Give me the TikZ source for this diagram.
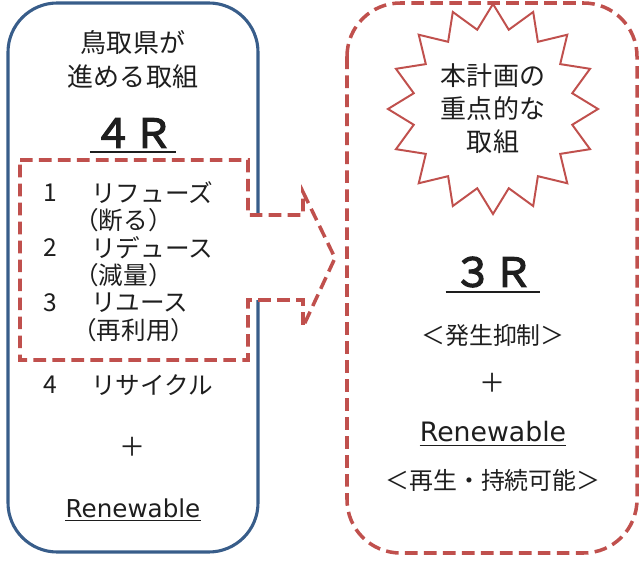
\documentclass[tikz,border=0pt]{standalone}
\usepackage{fontspec}
\setmainfont{Noto Sans CJK JP}
\newfontfamily\latinfont{DejaVu Sans}
\newfontfamily\heavyfont[FakeBold=3]{Noto Sans CJK JP}
\usetikzlibrary{shapes.geometric}
\definecolor{boxBlue}{RGB}{56,93,138}
\definecolor{planRed}{RGB}{192,80,77}
\definecolor{inkGray}{RGB}{30,30,30}

\begin{document}
\begin{tikzpicture}[x=0.025cm, y=-0.025cm,
    every node/.style={text=inkGray, inner sep=0pt},
    title/.style={font=\fontsize{18.5}{24.2}\selectfont, align=center},
    item/.style={font=\fontsize{17.5}{20}\selectfont, anchor=west},
    bigR/.style={font=\heavyfont\fontsize{28.5}{30}\selectfont},
    uline/.style={line width=1.2pt, inkGray},
    redDash/.style={planRed, line width=2.5pt, dash pattern=on 9pt off 4.5pt}]
    \useasboundingbox (0,0) rectangle (644,563);
    % Left box
    \draw[boxBlue, line width=2.2pt, rounded corners=35] (8,3) rectangle (258,552);
    % Dashed arrow over the list
    \draw[redDash, fill=white] (20,160) -- (248,160) -- (248,215) -- (303,215) -- (303,192)
        -- (335,258) -- (303,327) -- (303,300) -- (248,300) -- (248,360) -- (20,360) -- cycle;
    % Right box
    \draw[redDash, rounded corners=38] (347,3) rectangle (637,553);
    % Left texts
    \node[title] (prefTitle) at (133,60) {鳥取県が\\進める取組};
    \node[bigR, inner xsep=2pt] (fourR) at (133,133) {４Ｒ};
    \draw[uline] ([yshift=-3pt]fourR.south west) -- ([yshift=-3pt]fourR.south east);
    \node[item, anchor=center] (numA) at (50,193) {1};
    \node[item] (refuse) at (91,193) {リフューズ};
    \node[item] (refuseJa) at (74,220) {（断る）};
    \node[item, anchor=center] (numB) at (50,248) {2};
    \node[item] (reduce) at (91,248) {リデュース};
    \node[item] (reduceJa) at (74,275) {（減量）};
    \node[item, anchor=center] (numC) at (50,303) {3};
    \node[item] (reuse) at (91,303) {リユース};
    \node[item] (reuseJa) at (72,330) {（再利用）};
    \node[item, anchor=center] (numD) at (50,385) {4};
    \node[item] (recycle) at (91,385) {リサイクル};
    \node[title] (plusL) at (133,447) {＋};
    \node[font=\latinfont\fontsize{17.5}{20}\selectfont] (renewL) at (133,508) {Renewable};
    \draw[uline, line width=1pt] ([yshift=-2pt]renewL.south west) -- ([yshift=-2pt]renewL.south east);
    % Star
    \node[star, star points=16, star point ratio=1.3, minimum size=5.25cm, draw=planRed,
        line width=1.4pt, fill=white, title, font=\fontsize{18.5}{23.5}\selectfont] (focus) at (493,109)
        {本計画の\\重点的な\\取組};
    % Right texts
    \node[bigR, inner xsep=5pt] (threeR) at (493,272) {３Ｒ};
    \draw[uline] ([yshift=-3pt]threeR.south west) -- ([yshift=-3pt]threeR.south east);
    \node[font=\fontsize{17}{20}\selectfont] (prevent) at (493,335) {＜発生抑制＞};
    \node[title] (plusR) at (493,383) {＋};
    \node[font=\latinfont\fontsize{19}{22}\selectfont] (renewR) at (493,432) {Renewable};
    \draw[uline, line width=1pt] ([yshift=-2pt]renewR.south west) -- ([yshift=-2pt]renewR.south east);
    \node[font=\fontsize{17}{20}\selectfont] (sustain) at (493,480) {＜再生・持続可能＞};
\end{tikzpicture}
\end{document}
